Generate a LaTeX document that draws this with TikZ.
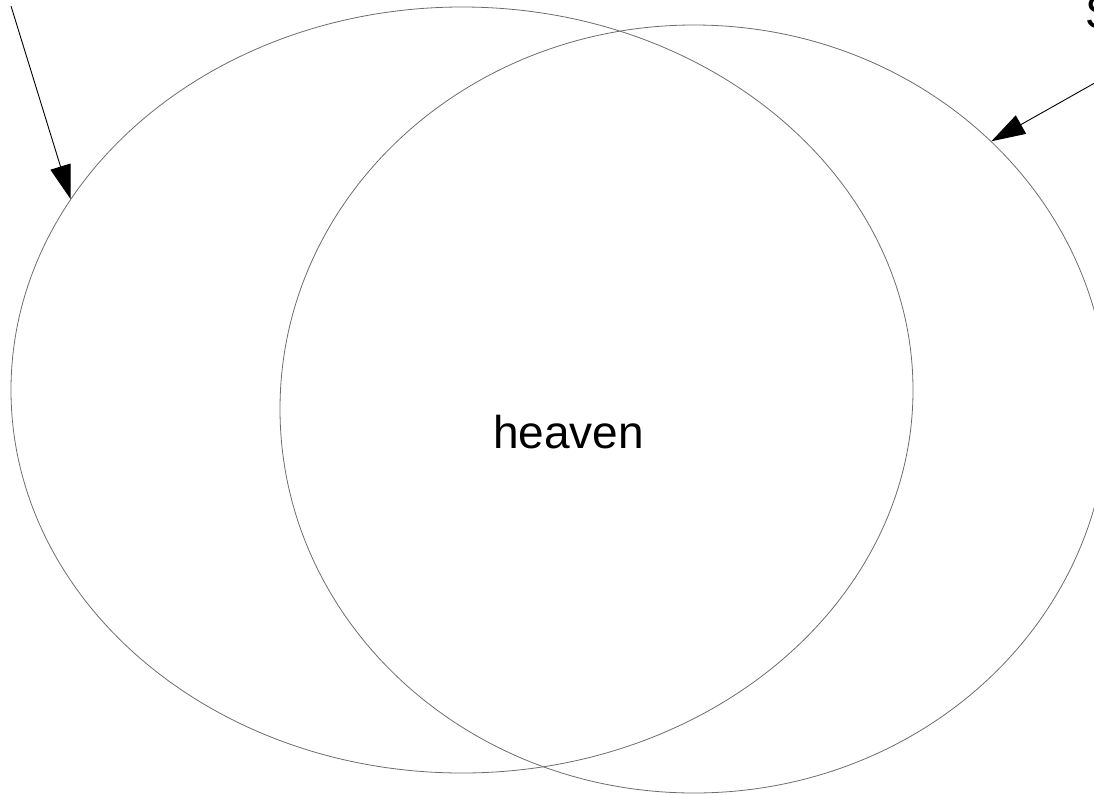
\documentclass[tikz,border=0pt]{standalone}
\usepackage{fontspec}
\setmainfont{Liberation Sans}
\usetikzlibrary{shapes.geometric,arrows.meta}
\tikzset{
  ring/.style={draw=gray!85!black, line width=0.8pt, ellipse, inner sep=0pt, fill=none},
  pointer/.style={draw=black, line width=0.9pt, -{Triangle[length=34pt,width=21pt]}},
  lbl/.style={inner sep=0pt, font=\fontsize{46}{55}\selectfont}
}
\begin{document}
\begin{tikzpicture}[x=1pt,y=-1pt]
\useasboundingbox (0,0) rectangle (1094,795);
\clip (0,0) rectangle (1094,795);
\node[ring, minimum width=902pt, minimum height=766pt] (L) at (462,390) {};
\node[ring, minimum width=828pt, minimum height=768pt] (R) at (694,409) {};
\node[lbl, anchor=base west] (heaven) at (493,448) {heaven};
\node[lbl, anchor=base west] (s) at (1085,28) {S};
\coordinate (a1) at (11,6);
\coordinate (a2) at (1100,80);
\draw[pointer] (a1) -- (L.154);
\draw[pointer] (a2) -- (R.42);
\end{tikzpicture}
\end{document}
